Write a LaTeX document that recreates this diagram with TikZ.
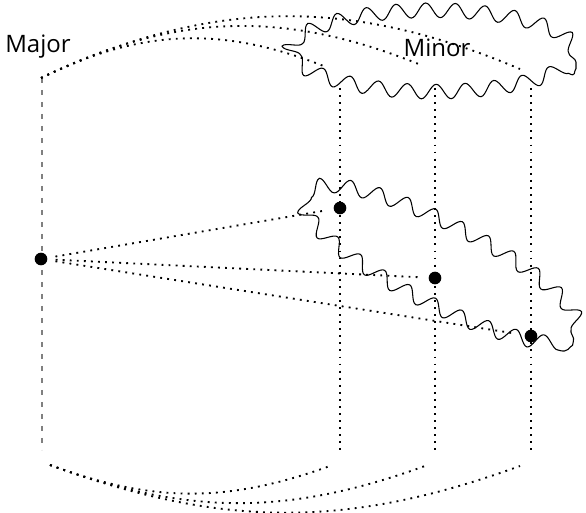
\documentclass[tikz,border=0pt]{standalone}
\usepackage{fontspec}
\setsansfont{Open Sans}
\usetikzlibrary{decorations.pathmorphing}

\tikzset{
  dotline/.style={line width=1.4pt, dash pattern=on 1.4pt off 3.9pt},
  dashline/.style={gray, line width=0.8pt, dash pattern=on 4pt off 5pt},
  wavy/.style={decorate, decoration={snake, segment length=22pt, amplitude=5.5pt}, thick},
  pt/.style={circle, fill=black, inner sep=0pt, minimum size=9.5pt},
  lbl/.style={font=\sffamily\fontsize{18}{20}\selectfont, inner sep=0pt, anchor=base}
}

\begin{document}
\begin{tikzpicture}[x=0.75pt, y=0.75pt]
  \useasboundingbox (0,0) rectangle (586,513);

  \node[lbl] (major) at (38,460) {Major};
  \node[lbl] (minor) at (437,456) {Minor};

  % left column
  \coordinate (majtop) at (42,435);
  \coordinate (majbot) at (42,63);
  \draw[dashline] (majtop) -- (majbot);
  \node[pt] (M) at (41,254) {};

  % right columns
  \foreach \i/\x/\y in {1/340/305, 2/435/235, 3/531/177} {
    \coordinate (top\i) at (\x,425);
    \coordinate (bot\i) at (\x,63);
    \draw[dotline] (top\i) -- (bot\i);
    \node[pt] (m\i) at (\x,\y) {};
    \draw[dotline, shorten <=11pt, shorten >=13pt] (M.center) -- (m\i.center);
  }

  % arcs
  \coordinate (up) at (41,435);
  \coordinate (up1) at (326,446);
  \coordinate (up2) at (421,448);
  \coordinate (up3) at (520,444);
  \coordinate (dn) at (50,48);
  \coordinate (dn1) at (330,47);
  \coordinate (dn2) at (425,47);
  \coordinate (dn3) at (520,47);
  \foreach \i in {1,2,3} {
    \draw[dotline] (up) to[bend left=24] (up\i);
    \draw[dotline] (dn) to[bend right=20] (dn\i);
  }

  % blobs
  \draw[wavy] (433,451) ellipse [x radius=143, y radius=42];
  \draw[wavy, rotate around={-27:(438,241)}] (438,241) ellipse [x radius=152, y radius=38];
\end{tikzpicture}
\end{document}
